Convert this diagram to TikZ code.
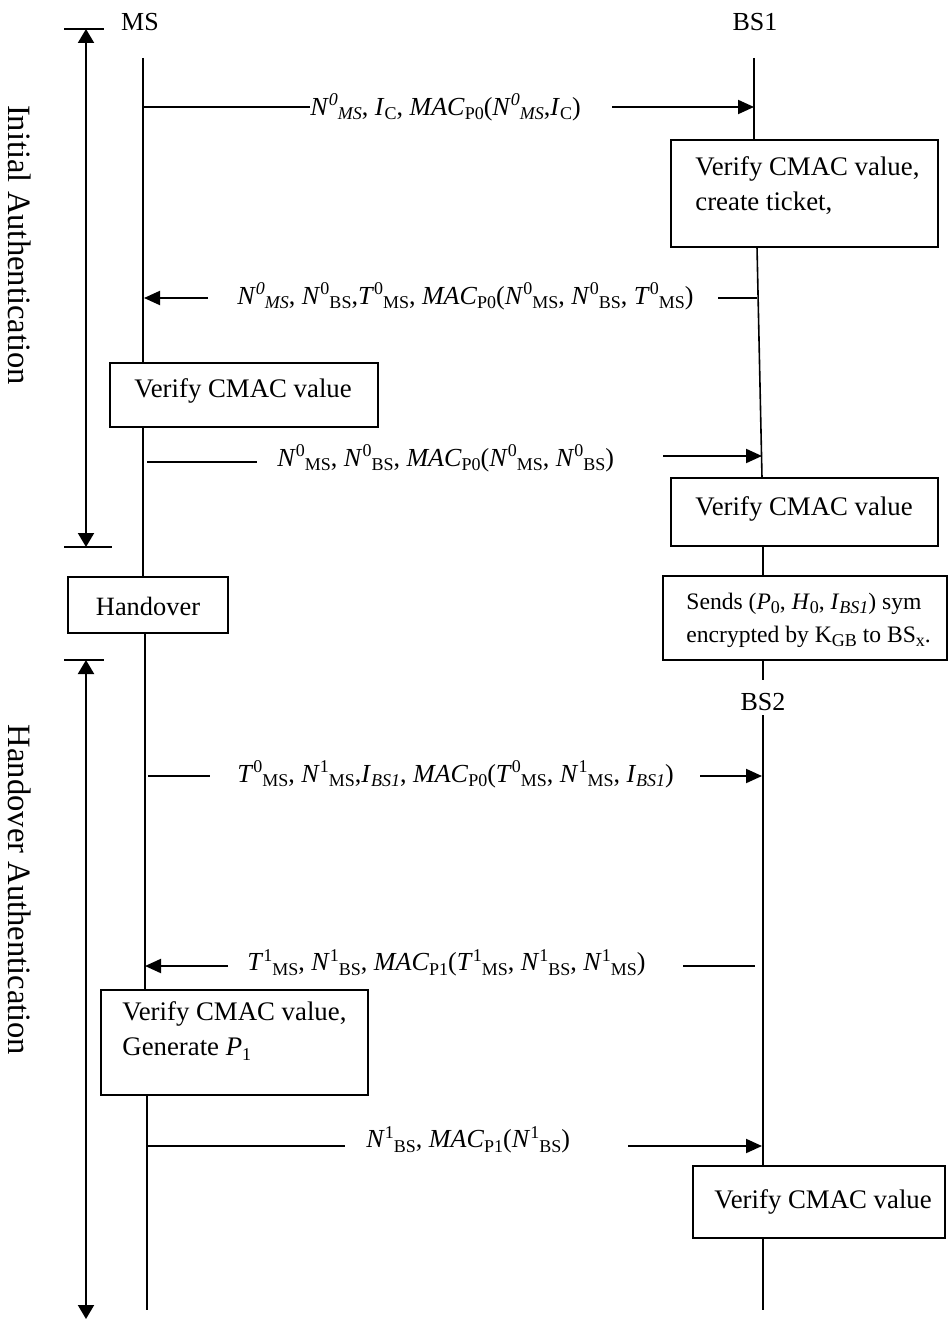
\documentclass[tikz,border=0pt]{standalone}
\usepackage{fontspec}
\setmainfont{Liberation Serif}
\usetikzlibrary{arrows.meta}
\newcommand\Sp[1]{\raisebox{4.8pt}{\fontsize{9}{9}\selectfont #1}}
\newcommand\Sb[1]{\raisebox{-2.2pt}{\fontsize{9}{9}\selectfont #1}}
\newcommand\It[1]{\textit{#1}}
\tikzset{
  life/.style={line width=0.8pt},
  msgline/.style={line width=0.8pt},
  harrow/.style={line width=1pt,-{Triangle[length=8pt,width=7pt]}},
  brkarrow/.style={line width=1pt,{Triangle[length=7pt,width=8pt]}-{Triangle[length=7pt,width=8pt]}},
  brkline/.style={line width=0.8pt},
  boxnode/.style={draw,line width=0.8pt,inner sep=0pt,fill=white},
  boxtxt/.style={inner sep=0pt,align=left,anchor=west,font=\fontsize{13.4}{17.5}\selectfont},
  msgtxt/.style={inner sep=0pt,anchor=west,font=\fontsize{13}{15}\selectfont},
  lbl/.style={inner sep=0pt},
  sidelbl/.style={inner sep=0pt,rotate=-90,font=\fontsize{16.3}{20}\selectfont},
}
\begin{document}
\begin{tikzpicture}[x=0.5pt,y=-0.5pt,font=\fontsize{13}{17.5}\selectfont]
\useasboundingbox (0,0) rectangle (949,1320);

% headings
\node[lbl] (msl) at (140,22) {MS};
\node[lbl] (bs1l) at (755,22) {BS1};
\node[lbl] (bs2l) at (763,702) {BS2};

% side labels
\node[sidelbl] (ial) at (20,245) {Initial Authentication};
\node[sidelbl] (hal) at (20,890) {Handover Authentication};

% brackets
\coordinate (b1t) at (86,29);
\coordinate (b1b) at (86,547);
\coordinate (b1tl) at (64,29); \coordinate (b1tr) at (104,29);
\coordinate (b1bl) at (64,547); \coordinate (b1br) at (112,547);
\draw[brkline] (b1tl) -- (b1tr);
\draw[brkline] (b1bl) -- (b1br);
\draw[brkarrow] (b1t) -- (b1b);
\coordinate (b2t) at (86,660);
\coordinate (b2b) at (86,1319);
\coordinate (b2tl) at (64,660); \coordinate (b2tr) at (104,660);
\draw[brkline] (b2tl) -- (b2tr);
\draw[brkarrow] (b2t) -- (b2b);

% boxes
\node[boxnode,minimum width=133.5pt,minimum height=53.5pt] (vb1) at (804.5,193.5) {};
\node[boxtxt] (vb1t) at (695,186) {Verify CMAC value,\\create ticket,};
\node[boxnode,minimum width=134pt,minimum height=32pt] (vb2) at (244,395) {};
\node[boxtxt] (vb2t) at (134,391) {Verify CMAC value};
\node[boxnode,minimum width=133.5pt,minimum height=34pt] (vb4) at (804.5,512) {};
\node[boxtxt] (vb4t) at (695,509) {Verify CMAC value};
\node[boxnode,minimum width=80pt,minimum height=28pt] (ho) at (148,605) {};
\node[lbl,font=\fontsize{13.2}{16}\selectfont] (hot) at (148,606) {Handover};
\node[boxnode,minimum width=142pt,minimum height=42pt] (snd) at (805,618) {};
\node[boxtxt,font=\fontsize{11.8}{16.5}\selectfont] (sndt) at (686,620)
  {Sends (\It{P}\Sb{0}, \It{H}\Sb{0}, \It{I}\Sb{\It{BS1}}) sym\\encrypted by K\Sb{GB} to BS\Sb{x}.};
\node[boxnode,minimum width=133.5pt,minimum height=52.5pt] (vb3) at (234.5,1042.5) {};
\node[boxtxt] (vb3t) at (122,1031) {Verify CMAC value,\\Generate \It{P}\Sb{1}};
\node[boxnode,minimum width=126pt,minimum height=36pt] (vb5) at (819,1202) {};
\node[boxtxt] (vb5t) at (714,1202) {Verify CMAC value};

% MS lifeline
\coordinate (msTop) at (143,58);
\coordinate (msMid) at (145,1000);
\coordinate (msBot) at (147,1310);
\draw[life] (msTop) -- (msTop |- vb2.north);
\draw[life] (vb2.south -| msTop) -- (ho.north -| msTop);
\draw[life] (ho.south -| msMid) -- (vb3.north -| msMid);
\draw[life] (vb3.south -| msBot) -- (msBot);

% BS1 lifeline
\coordinate (bs1a) at (754,58);
\coordinate (bs1b) at (757,247);
\coordinate (bs1c) at (762,478);
\coordinate (bs1d) at (763,680);
\draw[life] (bs1a) -- (bs1a |- vb1.north);
\draw[life] (bs1b) -- (bs1c);
\draw[life] (vb4.south -| bs1d) -- (snd.north -| bs1d);
\draw[life] (snd.south -| bs1d) -- (bs1d);

% BS2 lifeline
\coordinate (bs2a) at (763,715);
\coordinate (bs2b) at (763,1310);
\draw[life] (bs2a) -- (bs2a |- vb5.north);
\draw[life] (vb5.south -| bs2b) -- (bs2b);

% message 1
\coordinate (m1s) at (143,107);
\node[msgtxt] (m1t) at (310,107) {\It{N}\Sp{\It{0}}\Sb{\It{MS}}, \It{I}\Sb{C}, \It{MAC}\Sb{P0}(\It{N}\Sp{\It{0}}\Sb{\It{MS}},\It{I}\Sb{C})};
\coordinate (m1a) at (612,107);
\coordinate (m1e) at (754,107);
\draw[msgline] (m1s) -- (m1t.west);
\draw[harrow] (m1a) -- (m1e);

% message 3
\coordinate (m3a) at (208,298);
\coordinate (m3e) at (144,298);
\node[msgtxt] (m3t) at (237,296) {\It{N}\Sp{\It{0}}\Sb{\It{MS}}, \It{N}\Sp{0}\Sb{BS},\It{T}\Sp{0}\Sb{MS}, \It{MAC}\Sb{P0}(\It{N}\Sp{0}\Sb{MS}, \It{N}\Sp{0}\Sb{BS}, \It{T}\Sp{0}\Sb{MS})};
\coordinate (m3l) at (718,298);
\coordinate (m3r) at (757,298);
\draw[harrow] (m3a) -- (m3e);
\draw[msgline] (m3l) -- (m3r);

% message 5
\coordinate (m5s) at (147,462);
\coordinate (m5l) at (257,462);
\node[msgtxt] (m5t) at (277,458) {\It{N}\Sp{0}\Sb{MS}, \It{N}\Sp{0}\Sb{BS}, \It{MAC}\Sb{P0}(\It{N}\Sp{0}\Sb{MS}, \It{N}\Sp{0}\Sb{BS})};
\coordinate (m5a) at (663,456);
\coordinate (m5e) at (762,456);
\draw[msgline] (m5s) -- (m5l);
\draw[harrow] (m5a) -- (m5e);

% message 10
\coordinate (m10s) at (148,776);
\coordinate (m10l) at (210,776);
\node[msgtxt] (m10t) at (237,774) {\It{T}\Sp{0}\Sb{MS}, \It{N}\Sp{1}\Sb{MS},\It{I}\Sb{\It{BS1}}, \It{MAC}\Sb{P0}(\It{T}\Sp{0}\Sb{MS}, \It{N}\Sp{1}\Sb{MS}, \It{I}\Sb{\It{BS1}})};
\coordinate (m10a) at (700,776);
\coordinate (m10e) at (762,776);
\draw[msgline] (m10s) -- (m10l);
\draw[harrow] (m10a) -- (m10e);

% message 11
\coordinate (m11a) at (228,966);
\coordinate (m11e) at (145,966);
\node[msgtxt] (m11t) at (247,963) {\It{T}\Sp{1}\Sb{MS}, \It{N}\Sp{1}\Sb{BS}, \It{MAC}\Sb{P1}(\It{T}\Sp{1}\Sb{MS}, \It{N}\Sp{1}\Sb{BS}, \It{N}\Sp{1}\Sb{MS})};
\coordinate (m11l) at (683,966);
\coordinate (m11r) at (755,966);
\draw[harrow] (m11a) -- (m11e);
\draw[msgline] (m11l) -- (m11r);

% message 13
\coordinate (m13s) at (148,1146);
\coordinate (m13l) at (345,1146);
\node[msgtxt] (m13t) at (366,1140) {\It{N}\Sp{1}\Sb{BS}, \It{MAC}\Sb{P1}(\It{N}\Sp{1}\Sb{BS})};
\coordinate (m13a) at (628,1146);
\coordinate (m13e) at (762,1146);
\draw[msgline] (m13s) -- (m13l);
\draw[harrow] (m13a) -- (m13e);
\end{tikzpicture}
\end{document}
